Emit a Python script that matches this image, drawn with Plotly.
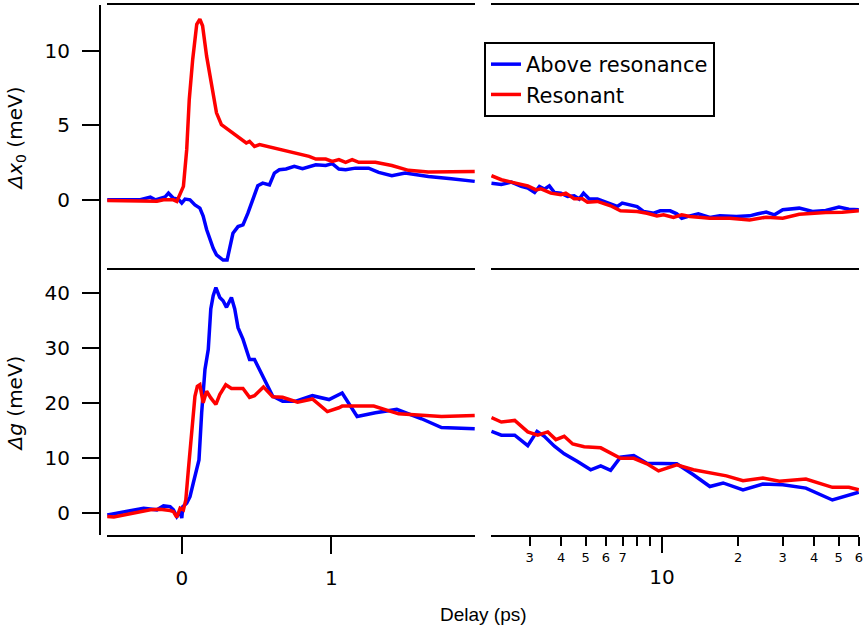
import plotly.graph_objects as go

# ---------------- data ----------------
# Top row: Δx0 (meV); early (linear) delays
t_x0_above_early = [-0.498, -0.277, -0.210, -0.177, -0.111, -0.089, -0.056, -0.023, 0.0, 0.022,
                    0.055, 0.088, 0.121, 0.143, 0.166, 0.188, 0.210, 0.232, 0.254, 0.276,
                    0.303, 0.321, 0.342, 0.376, 0.409, 0.442, 0.475, 0.508, 0.541, 0.586,
                    0.619, 0.652, 0.697, 0.752, 0.807, 0.896, 0.962, 1.006, 1.050, 1.095,
                    1.161, 1.249, 1.316, 1.404, 1.493, 1.648, 1.802, 1.958]
x0_above_early = [0.0, 0.0, 0.18, 0.0, 0.2, 0.45, 0.1, 0.05, -0.22, 0.05,
                  0.0, -0.34, -0.56, -1.1, -2.0, -2.7, -3.26, -3.7, -3.9, -4.05,
                  -4.05, -3.26, -2.25, -1.8, -1.69, -0.9, 0.0, 0.94, 1.12, 1.0,
                  1.8, 2.02, 2.07, 2.25, 2.09, 2.36, 2.31, 2.43, 2.07, 2.02,
                  2.13, 2.13, 1.84, 1.62, 1.8, 1.57, 1.42, 1.24]

t_x0_res_early = [-0.498, -0.277, -0.166, -0.122, -0.056, -0.033, -0.011, 0.011, 0.033, 0.050,
                  0.073, 0.100, 0.121, 0.139, 0.166, 0.199, 0.232, 0.265, 0.309, 0.387,
                  0.431, 0.453, 0.486, 0.520, 0.608, 0.652, 0.719, 0.785, 0.851, 0.896,
                  0.962, 1.006, 1.050, 1.095, 1.139, 1.183, 1.294, 1.404, 1.515, 1.648,
                  1.802, 1.958]
x0_res_early = [-0.05, -0.05, -0.1, 0.0, 0.0, -0.11, 0.34, 0.9, 3.37, 6.74,
                9.44, 11.8, 12.14, 11.7, 9.66, 7.87, 5.85, 5.06, 4.72, 4.16,
                3.82, 3.93, 3.59, 3.71, 3.49, 3.37, 3.19, 3.05, 2.92, 2.74,
                2.74, 2.58, 2.7, 2.52, 2.7, 2.52, 2.52, 2.31, 1.98, 1.87,
                1.91, 1.91]

# Top row: Δx0 (meV); late (log) delays
t_x0_above_late = [2.12, 2.32, 2.54, 2.78, 2.95, 3.14, 3.28, 3.43, 3.59, 3.76,
                   3.99, 4.24, 4.50, 4.71, 4.90, 5.16, 5.56, 6.27, 6.66, 6.97,
                   7.98, 8.48, 9.28, 9.85, 10.78, 11.45, 11.98, 12.91, 13.93, 15.47,
                   16.94, 19.69, 22.21, 23.96, 25.83, 27.85, 30.04, 34.90, 39.39, 44.42,
                   50.10, 54.83, 60.0]
x0_above_late = [1.12, 1.03, 1.19, 0.9, 0.79, 0.49, 0.9, 0.72, 0.94, 0.49,
                 0.45, 0.22, 0.27, 0.05, 0.45, 0.05, 0.05, -0.27, -0.45, -0.22,
                 -0.45, -0.79, -0.9, -0.74, -0.74, -0.94, -1.24, -1.08, -0.94, -1.19,
                 -1.08, -1.12, -1.08, -0.94, -0.83, -1.01, -0.67, -0.56, -0.79, -0.72,
                 -0.49, -0.63, -0.67]

t_x0_res_late = [2.12, 2.32, 2.54, 2.95, 3.18, 3.33, 3.64, 3.99, 4.17, 4.50,
                 4.85, 5.08, 5.56, 6.27, 6.86, 7.98, 8.73, 9.56, 10.15, 11.11,
                 11.98, 12.91, 15.47, 18.54, 22.21, 25.83, 30.04, 34.90, 44.42, 51.66,
                 60.0]
x0_res_late = [1.62, 1.35, 1.19, 0.94, 0.67, 0.74, 0.45, 0.34, 0.45, 0.07,
               0.07, -0.16, -0.11, -0.4, -0.74, -0.79, -0.9, -1.08, -1.01, -1.19,
               -1.01, -1.12, -1.24, -1.24, -1.35, -1.17, -1.24, -0.97, -0.85, -0.83,
               -0.74]

# Bottom row: Δg (meV); early delays
t_g_above_early = [-0.498, -0.255, -0.166, -0.122, -0.078, -0.056, -0.033, -0.011, 0.0, 0.007,
                   0.033, 0.055, 0.077, 0.100, 0.115, 0.133, 0.155, 0.177, 0.194, 0.210,
                   0.228, 0.254, 0.276, 0.299, 0.332, 0.354, 0.376, 0.409, 0.453, 0.486,
                   0.520, 0.564, 0.608, 0.674, 0.763, 0.873, 0.984, 1.072, 1.172, 1.294,
                   1.437, 1.603, 1.736, 1.958]
g_above_early = [-0.42, 0.8, 0.5, 1.22, 1.1, 0.5, -0.73, 0.18, -1.0, 1.1,
                 1.7, 2.9, 5.4, 7.8, 9.6, 18.2, 26.1, 29.7, 37.1, 39.5,
                 41.0, 39.2, 38.6, 37.4, 39.2, 37.1, 33.7, 31.6, 27.9, 27.9,
                 26.1, 23.7, 21.2, 20.3, 20.3, 21.3, 20.6, 21.8, 17.5, 18.2,
                 18.8, 17.1, 15.5, 15.3]

t_g_res_early = [-0.498, -0.454, -0.210, -0.144, -0.078, -0.056, -0.033, -0.011, 0.011, 0.027,
                 0.044, 0.066, 0.088, 0.104, 0.121, 0.143, 0.166, 0.194, 0.228, 0.254,
                 0.294, 0.332, 0.409, 0.453, 0.486, 0.546, 0.608, 0.674, 0.774, 0.873,
                 0.973, 1.050, 1.072, 1.161, 1.283, 1.449, 1.736, 1.958]
g_res_early = [-0.73, -0.8, 0.5, 0.6, 0.37, 0.18, -0.85, 0.8, 0.5, 2.3,
               7.8, 15.1, 21.2, 23.0, 23.3, 20.0, 22.1, 20.9, 19.7, 21.5,
               23.3, 22.6, 22.6, 21.0, 21.3, 22.9, 21.1, 21.0, 20.1, 20.7,
               18.4, 19.1, 19.4, 19.4, 19.4, 18.0, 17.5, 17.7]

# Bottom row: Δg (meV); late delays
t_g_above_late = [2.12, 2.32, 2.62, 2.95, 3.21, 3.43, 3.76, 4.11, 4.64, 5.23,
                  5.73, 6.27, 6.86, 7.74, 8.73, 11.45, 13.32, 15.47, 17.46, 20.92,
                  25.07, 30.04, 37.08, 47.19, 60.0]
g_above_late = [14.8, 14.1, 14.1, 12.2, 14.8, 13.9, 12.1, 10.7, 9.3, 7.8,
                8.5, 7.7, 10.1, 10.4, 9.0, 8.9, 6.9, 4.75, 5.4, 4.15,
                5.2, 5.06, 4.46, 2.3, 3.7]

t_g_res_late = [2.12, 2.32, 2.62, 2.95, 3.23, 3.54, 3.81, 4.11, 4.44, 4.93,
                5.73, 6.27, 6.86, 7.74, 8.73, 9.70, 11.45, 13.32, 15.47, 17.99,
                20.92, 25.07, 29.13, 37.08, 47.19, 54.83, 60.0]
g_res_late = [17.3, 16.5, 16.8, 14.7, 14.1, 14.7, 13.3, 13.9, 12.5, 12.0,
              11.8, 10.9, 9.9, 9.9, 8.9, 7.6, 8.7, 7.8, 7.2, 6.7,
              5.8, 6.3, 5.7, 6.1, 4.6, 4.6, 4.15]

series_names = ["Above resonance", "Resonant"]
series_colors = ["#0000ff", "#ff0000"]

early_ticks = [0, 1]
late_label_ticks = [3, 4, 5, 6, 7, 20, 30, 40, 50, 60]
late_label_text = ["3", "4", "5", "6", "7", "2", "3", "4", "5", "6"]
late_unlabelled_ticks = [8, 9]
late_major_ticks = [10]
late_major_labels = ["10"]
x0_ticks = [0, 5, 10]
g_ticks = [0, 10, 20, 30, 40]

# ---------------- figure ----------------
FONT = "DejaVu Sans"
LW = 3.5
fig = go.Figure()

panels = [
    (t_x0_above_early, x0_above_early, t_x0_res_early, x0_res_early, "x", "y", True),
    (t_x0_above_late, x0_above_late, t_x0_res_late, x0_res_late, "x2", "y2", False),
    (t_g_above_early, g_above_early, t_g_res_early, g_res_early, "x3", "y3", False),
    (t_g_above_late, g_above_late, t_g_res_late, g_res_late, "x4", "y4", False),
]
for ta, va, tr, vr, xa, ya, leg in panels:
    fig.add_trace(go.Scatter(x=ta, y=va, mode="lines", name=series_names[0],
                             line=dict(color=series_colors[0], width=LW),
                             xaxis=xa, yaxis=ya, showlegend=leg, legendgroup="a"))
    fig.add_trace(go.Scatter(x=tr, y=vr, mode="lines", name=series_names[1],
                             line=dict(color=series_colors[1], width=LW),
                             xaxis=xa, yaxis=ya, showlegend=leg, legendgroup="r"))
# helper (empty) trace so the overlaying major-tick axis is drawn
fig.add_trace(go.Scatter(x=[None], y=[None], xaxis="x5", yaxis="y4",
                         showlegend=False, hoverinfo="skip"))

ML, MR, MT, MB = 100, 5, 5, 99
W, H = 868, 634
PW = W - ML - MR
PH = H - MT - MB
dl = [(107 - ML) / PW, (477 - ML) / PW]
dr = [(493 - ML) / PW, 1.0]

early_range = [-0.5, 1.96]
late_range = [0.3243, 1.779]

common_line = dict(showline=True, linecolor="black", linewidth=2, showgrid=False,
                   zeroline=False)

fig.update_layout(
    width=W, height=H,
    margin=dict(l=ML, r=MR, t=MT, b=MB),
    paper_bgcolor="white", plot_bgcolor="white",
    font=dict(family=FONT, size=20, color="black"),
    showlegend=True,
    legend=dict(x=(486 - ML) / PW, y=(535 - 42) / PH, xanchor="left", yanchor="top",
                bgcolor="white", bordercolor="black", borderwidth=2,
                font=dict(family=FONT, size=21, color="black"),
                tracegroupgap=0),
    xaxis=dict(domain=dl, anchor="y", side="top", range=early_range, mirror=False,
               ticks="", showticklabels=False, **common_line),
    xaxis2=dict(domain=dr, anchor="y2", side="top", type="log", range=late_range,
                mirror=False, ticks="", showticklabels=False, **common_line),
    xaxis3=dict(domain=dl, anchor="y3", range=early_range, mirror=True,
                tickmode="array", tickvals=early_ticks, ticks="outside", ticklen=17,
                tickwidth=2, tickcolor="black", ticklabelstandoff=7,
                tickfont=dict(family=FONT, size=20), **common_line),
    xaxis4=dict(domain=dr, anchor="y4", type="log", range=late_range, mirror=True,
                tickmode="array", tickvals=late_label_ticks, ticktext=late_label_text,
                ticks="outside", ticklen=9, tickwidth=2, tickcolor="black",
                minor=dict(tickmode="array", tickvals=late_unlabelled_ticks, ticks="outside",
                           ticklen=9, tickwidth=2, tickcolor="black", showgrid=False),
                tickfont=dict(family=FONT, size=13), **common_line),
    xaxis5=dict(domain=dr, anchor="y4", overlaying="x4", side="bottom", type="log",
                range=late_range, showline=False, showgrid=False, zeroline=False,
                tickmode="array", tickvals=late_major_ticks, ticktext=late_major_labels,
                ticks="outside", ticklen=17, tickwidth=2, tickcolor="black",
                ticklabelstandoff=7, tickfont=dict(family=FONT, size=20)),
    yaxis=dict(domain=[0.5, 1.0], anchor="free", position=0, range=[-4.72, 13.1],
               tickmode="array", tickvals=x0_ticks, ticks="outside", ticklen=17,
               tickwidth=2, tickcolor="black", ticklabelstandoff=8,
               tickfont=dict(family=FONT, size=20),
               title=dict(text="<i>Δx</i><sub>0</sub> (meV)", standoff=16,
                          font=dict(family=FONT, size=20)),
               **common_line),
    yaxis2=dict(domain=[0.5, 1.0], anchor="x2", range=[-4.72, 13.1], visible=False),
    yaxis3=dict(domain=[0.0, 0.5], anchor="free", position=0, range=[-4.08, 44.2],
                tickmode="array", tickvals=g_ticks, ticks="outside", ticklen=17,
                tickwidth=2, tickcolor="black", ticklabelstandoff=8,
                tickfont=dict(family=FONT, size=20),
                title=dict(text="<i>Δg</i> (meV)", standoff=16,
                           font=dict(family=FONT, size=20)),
                **common_line),
    yaxis4=dict(domain=[0.0, 0.5], anchor="x4", range=[-4.08, 44.2], visible=False),
    annotations=[dict(text="Delay (ps)", xref="paper", yref="paper",
                      x=(486 - ML) / PW, y=-(614 - 535) / PH,
                      xanchor="center", yanchor="middle", showarrow=False,
                      font=dict(family="Liberation Sans", size=19, color="black"))],
)

fig.write_html("out.html")
